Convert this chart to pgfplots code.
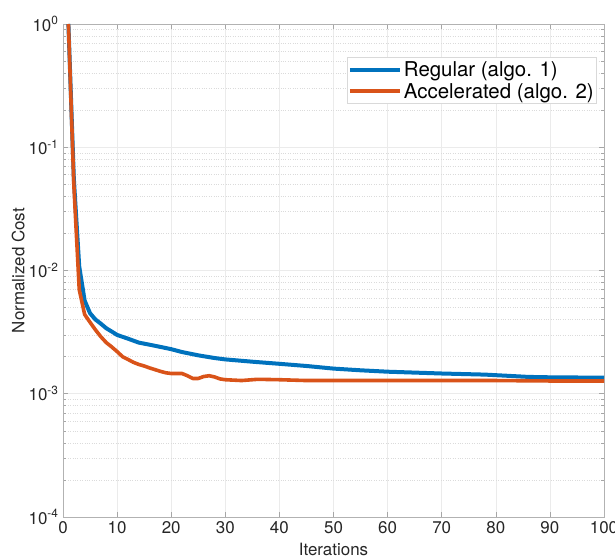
\documentclass[border=0pt]{standalone}
\usepackage{pgfplots}
\pgfplotsset{compat=1.18}
\usepackage{fontspec}
\setmainfont{TeX Gyre Heros}
\definecolor{mblue}{rgb}{0,0.447,0.741}
\definecolor{morange}{rgb}{0.85,0.325,0.098}
\begin{document}
\begin{tikzpicture}
\begin{axis}[
  scale only axis,
  width=541bp, height=493bp,
  xmin=0, xmax=100, ymode=log, ymin=1e-4, ymax=1,
  xtick={0,10,...,100},
  ytick={1e-4,1e-3,1e-2,1e-1,1},
  yticklabels={10\textsuperscript{-4},10\textsuperscript{-3},10\textsuperscript{-2},10\textsuperscript{-1},10\textsuperscript{0}},
  /pgf/number format/assume math mode=true,
  tick label style={font=\fontsize{17}{19}\selectfont, text=black!85},
  yticklabel style={xshift=-1bp},
  xticklabel style={yshift=-1bp},
  label style={font=\fontsize{17}{19}\selectfont, text=black!85},
  xlabel={Iterations}, ylabel={Normalized Cost},
  xlabel style={at={(axis description cs:0.5,-0.066)}, anchor=center},
  ylabel style={at={(axis description cs:-0.083,0.5)}, anchor=center},
  grid=both,
  xminorgrids=false,
  major grid style={solid, gray!16, line width=0.6pt},
  minor grid style={dotted, gray!28, line width=0.6pt},
  tick align=inside,
  major tick length=5bp, minor tick length=3bp,
  every tick/.style={gray!70, line width=0.6pt},
  axis line style={gray!60, line width=0.9pt},
  legend style={at={(0.987,0.933)}, anchor=north east, draw=gray!30, fill=white,
    font=\fontsize{20.5}{23}\selectfont, inner xsep=1pt, inner ysep=2pt, row sep=1.5pt,
    line width=0.6pt},
  legend cell align=left,
  legend image code/.code={\draw[#1, line width=4bp] (0bp,0bp) -- (50bp,0bp);},
]
\addplot[mblue, line width=4bp, line join=round] coordinates {
(1,1.0) (2,0.056) (3,0.0108) (4,0.0057) (5,0.0045) (6,0.0040) (7,0.0037) (8,0.0034)
(9,0.0032) (10,0.0030) (12,0.0028) (14,0.0026) (16,0.0025) (18,0.0024) (20,0.0023)
(22,0.00218) (25,0.00205) (28,0.00195) (30,0.00190) (35,0.00182) (40,0.00175)
(45,0.00168) (50,0.00160) (55,0.00155) (60,0.00151) (70,0.00146) (78,0.00143)
(82,0.00140) (86,0.00137) (90,0.00136) (100,0.00135)
};
\addlegendentry{Regular (algo. 1)}
\addplot[morange, line width=3.6bp, line join=round] coordinates {
(1,1.0) (2,0.05) (3,0.0070) (4,0.0044) (5,0.0038) (6,0.0033) (7,0.0029) (8,0.0026)
(9,0.0024) (10,0.0022) (11,0.0020) (12,0.00190) (13,0.00180) (14,0.00173) (15,0.00168)
(16,0.00162) (17,0.00157) (18,0.00152) (19,0.00148) (20,0.00146) (22,0.00146)
(23,0.00140) (24,0.00133) (25,0.00133) (26,0.00138) (27,0.00140) (28,0.00137)
(29,0.00132) (30,0.00130) (33,0.00128) (36,0.00131) (40,0.00130) (45,0.00128)
(50,0.00128) (60,0.00128) (70,0.00128) (80,0.00128) (90,0.00127) (100,0.00127)
};
\addlegendentry{Accelerated (algo. 2)}
\end{axis}
\pgfresetboundingbox
\useasboundingbox ([xshift=-63bp,yshift=-39bp]current axis.south west) rectangle ([xshift=11bp,yshift=24bp]current axis.north east);
\end{tikzpicture}
\end{document}
